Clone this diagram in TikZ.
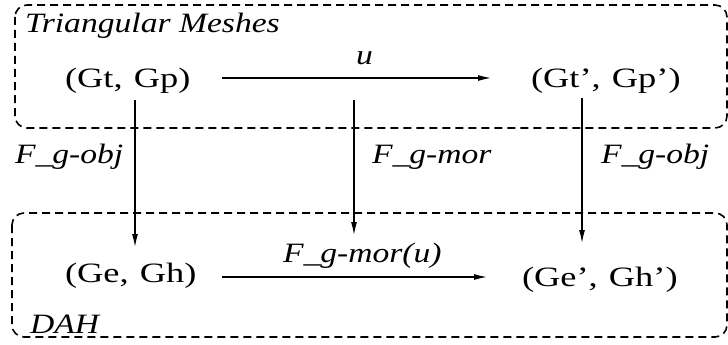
\documentclass[tikz,border=0pt]{standalone}
\usepackage{fontspec}
\setmainfont[FakeStretch=1.2]{Liberation Serif}
\newfontfamily\objfont[FakeStretch=1.3]{Liberation Serif}
\usetikzlibrary{arrows.meta}
\begin{document}
\begin{tikzpicture}[x=1pt,y=-1pt,
  every node/.style={inner sep=0pt,outer sep=0pt},
  obj/.style={font=\fontsize{28}{30}\objfont},
  lbl/.style={font=\fontsize{28}{30}\selectfont\itshape},
  grp/.style={draw,line width=1.6pt,dash pattern=on 8pt off 5pt,rounded corners=12pt},
  arr/.style={line width=1.2pt,-{Latex[length=13pt,width=6pt]}}]
\useasboundingbox (0,0) rectangle (728,345);
% group boxes
\draw[grp] (15,5) rectangle (727,128);
\draw[grp] (12,213) rectangle (727,337);
\node[lbl,anchor=base west] (tm) at (25,33) {Triangular Meshes};
\node[lbl,anchor=base west] (dah) at (30,333) {DAH};
% objects
\node[obj,anchor=base west] (tl) at (65,87) {(Gt,\hspace{0.4em}Gp)};
\node[obj,anchor=base west] (tr) at (531,87) {(Gt’,\hspace{0.4em}Gp’)};
\node[obj,anchor=base west] (bl) at (65,282) {(Ge,\hspace{0.4em}Gh)};
\node[obj,anchor=base west] (br) at (522,286) {(Ge’,\hspace{0.4em}Gh’)};
% horizontal arrows
\coordinate (h1a) at (222,78); \coordinate (h1b) at (491,78);
\coordinate (h2a) at (222,277); \coordinate (h2b) at (487,277);
\draw[arr] (h1a) -- (h1b);
\draw[arr] (h2a) -- (h2b);
\node[lbl,anchor=base west] (ul) at (356,65) {u};
\node[lbl,anchor=base west] (fu) at (283,262) {F\_g-mor(u)};
% vertical arrows
\coordinate (v1a) at (135,100); \coordinate (v1b) at (135,247);
\coordinate (v2a) at (354,100); \coordinate (v2b) at (354,235);
\coordinate (v3a) at (582,98);  \coordinate (v3b) at (582,243);
\draw[arr] (v1a) -- (v1b);
\draw[arr] (v2a) -- (v2b);
\draw[arr] (v3a) -- (v3b);
\node[lbl,anchor=base west] (f1) at (15,163) {F\_g-obj};
\node[lbl,anchor=base west] (f2) at (372,163) {F\_g-mor};
\node[lbl,anchor=base west] (f3) at (601,163) {F\_g-obj};
\end{tikzpicture}
\end{document}
